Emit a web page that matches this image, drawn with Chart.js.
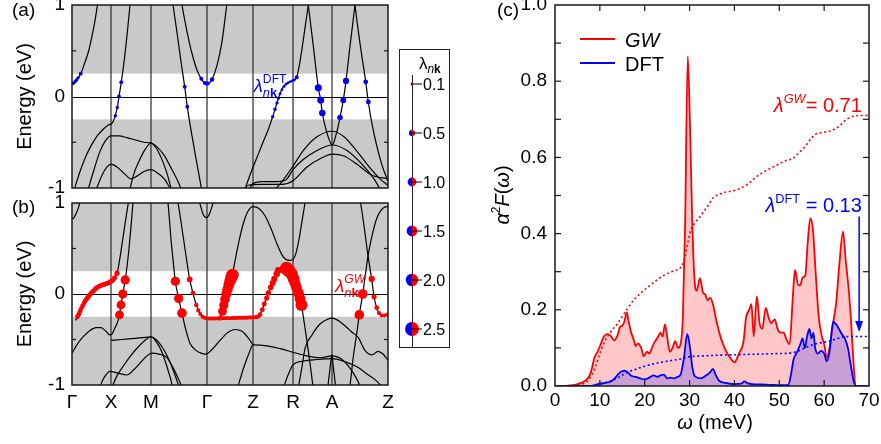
<!DOCTYPE html>
<html>
<head>
<meta charset="utf-8">
<script src="https://cdn.jsdelivr.net/npm/chart.js@4.4.1/dist/chart.umd.min.js"></script>
<style>
  html, body { margin: 0; padding: 0; background: #fff; }
  #wrap { position: relative; width: 881px; height: 444px; overflow: hidden; background: #fff; }
  canvas { position: absolute; }
</style>
</head>
<body>
<div id="wrap">
  <canvas id="cA" width="400" height="210" style="left:0px;top:-10px"></canvas>
  <canvas id="cB" width="400" height="249" style="left:0px;top:195px"></canvas>
  <canvas id="cL" width="60" height="310" style="left:395px;top:45px"></canvas>
  <canvas id="cC" width="401" height="454" style="left:480px;top:-10px"></canvas>
</div>
<script>
// ---------- k-path and energy axis ----------
const kTicks = [0, 39, 79, 135, 181, 221, 260, 316];
const kLabels = ['Γ', 'X', 'M', 'Γ', 'Z', 'R', 'A', 'Z'];
const eTicks = [-1, 0, 1];
const fermiWindow = 0.25;

// ---------- DFT bands (k, E in eV) ----------
const bandA1 = [[0,0.14],[3,0.16],[6,0.2],[9,0.255],[12.5,0.36],[16.7,0.5],[20,0.66],[23,0.83],[25.5,1.0],[27,1.1]];
const bandA2 = [[2.7,-1.0],[8,-0.82],[14,-0.65],[20,-0.52],[26,-0.42],[32,-0.35],[36,-0.315],[39,-0.3],[40.5,-0.285],[42,-0.25],[43.3,-0.21],[45.3,-0.12],[47,0.0],[49.3,0.157],[52.5,0.42],[55.5,0.72],[58,1.0],[59,1.1]];
const bandA3 = [[16,-1.02],[22,-0.8],[28,-0.6],[33,-0.49],[39,-0.43],[47,-0.43],[55,-0.45],[65,-0.48],[72,-0.5],[79,-0.51],[85,-0.55],[92,-0.64],[100,-0.8],[106,-0.93],[109.5,-1.02]];
const bandA4 = [[57.7,-1.02],[62,-0.84],[67.7,-0.69],[73,-0.58],[79,-0.51],[84,-0.56],[90,-0.69],[95,-0.84],[99.5,-1.02]];
const bandA5 = [[24,-1.02],[30,-0.86],[35,-0.77],[39,-0.74],[45,-0.77],[52,-0.84],[59,-0.9],[65,-0.87],[72,-0.82],[79,-0.8],[86,-0.84],[93,-0.91],[99,-1.02]];
const bandA6 = [[100,1.07],[101,1.0],[105,0.7],[109,0.38],[112.7,0.106],[115.3,-0.113],[120,-0.43],[125,-0.74],[129.3,-1.0],[130,-1.05]];
const bandA7 = [[108,1.15],[110,1.0],[115,0.71],[120,0.47],[125,0.29],[129.3,0.193],[132.7,0.149],[135,0.14],[137,0.145],[140,0.186],[145,0.34],[150,0.6],[154.7,1.0],[156,1.12]];
const bandA8 = [[172,-1.05],[173.7,-0.99],[180,-0.8],[186.3,-0.63],[191,-0.5],[196.3,-0.36],[200.7,-0.22],[203,-0.14],[205,-0.07],[208,0.03],[211,0.1],[214,0.135],[218,0.16],[221,0.175],[224.7,0.21],[227,0.32],[230,0.52],[233,0.75],[236.3,1.0],[237,1.06]];
const bandA9 = [[235.6,1.06],[236.3,1.0],[241,0.58],[246.3,0.095],[248.7,-0.04],[250.3,-0.18],[255,-0.4],[260.3,-0.53],[264,-0.42],[268,-0.23],[271.3,-0.04],[274,0.17],[278,0.55],[283,1.0],[284,1.08]];
const bandA10 = [[282,1.1],[283,1.0],[288,0.58],[293.7,0.16],[296.3,-0.06],[300,-0.3],[305,-0.55],[310,-0.75],[316,-0.93]];
const bandA11 = [[200,-1.05],[210,-0.93],[221,-0.76],[232,-0.58],[245,-0.44],[260,-0.38],[272,-0.44],[285,-0.6],[298,-0.78],[308,-0.9],[316,-0.97]];
const bandA12 = [[176,-1.05],[180,-0.96],[190,-0.93],[205,-0.93],[214,-0.91],[221,-0.8],[230,-0.7],[245,-0.59],[260,-0.53],[275,-0.59],[290,-0.74],[302,-0.9],[310,-1.05]];
const bandA13 = [[170,-1.05],[176,-0.97],[190,-0.96],[210,-0.96],[221,-0.92],[235,-0.77],[250,-0.67],[260,-0.63],[272,-0.65],[285,-0.74],[300,-0.86],[316,-0.9]];
const dftBands = [bandA1,bandA2,bandA3,bandA4,bandA5,bandA6,bandA7,bandA8,bandA9,bandA10,bandA11,bandA12,bandA13];

// DFT coupling on the bands (k, E, lambda_nk)
const dftDots = [
  [1,0.142,0.15],[2.2,0.152,0.15],[3.3,0.168,0.15],[4.6,0.18,0.15],[6,0.204,0.15],[8.7,0.25,0.2],
  [43.3,-0.21,0.15],[45.3,-0.12,0.15],[47,0.0,0.2],[49.3,0.157,0.2],
  [112.7,0.106,0.2],[115.3,-0.113,0.2],
  [129.3,0.193,0.2],[132.7,0.149,0.2],[134.5,0.142,0.2],[136,0.142,0.2],[140,0.186,0.25],
  [200.7,-0.22,0.15],[203,-0.14,0.15],[205,-0.07,0.15],[206.5,-0.02,0.12],[208,0.03,0.12],[210,0.075,0.1],
  [212,0.11,0.1],[214,0.135,0.1],[216,0.15,0.1],[218,0.16,0.1],[220,0.17,0.1],[222,0.18,0.12],[224.7,0.21,0.2],
  [246.3,0.095,0.65],[248.7,-0.04,0.6],[250.3,-0.18,0.55],
  [268,-0.23,0.4],[271.3,-0.04,0.45],[274,0.17,0.5],
  [293.7,0.16,0.3],[296.3,-0.06,0.3]
];

// ---------- GW bands (k, E in eV) ----------
const bandB1 = [[0,0.82],[2,0.84],[4.3,0.89],[6.5,0.95],[8,1.02]];
const bandB2 = [[3.5,-0.29],[6,-0.245],[9.3,-0.16],[12,-0.1],[14.3,-0.06],[17,-0.02],[19.3,0.01],[22,0.04],[24.3,0.065],[27,0.085],[29.3,0.095],[32,0.105],[34.3,0.115],[37,0.125],[39.3,0.14],[41.5,0.16],[43,0.19],[45.3,0.235],[48,0.4],[51,0.62],[54,0.84],[56.3,1.0],[57.5,1.08]];
const bandB3 = [[0,-0.65],[6,-0.54],[12,-0.46],[18,-0.4],[24,-0.37],[29,-0.37],[34,-0.41],[37.7,-0.45],[40,-0.44],[42.7,-0.38],[45.5,-0.31],[47.5,-0.23],[49,-0.12],[50.8,0.0],[53.2,0.155],[55,0.3],[57,0.5],[59,0.74],[61,1.0],[62,1.1]];
const bandB4 = [[39,-0.51],[50,-0.5],[60,-0.49],[70,-0.48],[79,-0.47],[84,-0.5],[90,-0.58],[96,-0.7],[102,-0.86],[107,-1.02]];
const bandB5 = [[39,-1.05],[45,-0.9],[52,-0.78],[60,-0.66],[68,-0.56],[74,-0.5],[79,-0.47],[84,-0.52],[90,-0.64],[95,-0.8],[99,-0.95],[101,-1.05]];
const bandB6 = [[27,-1.05],[31,-0.94],[38,-0.85],[46,-0.87],[55,-0.89],[62,-0.83],[68,-0.76],[74,-0.69],[79.5,-0.65],[87,-0.66],[95,-0.7],[102,-0.83],[110,-1.02]];
const bandB7 = [[95,1.08],[96,1.0],[99,0.6],[101,0.38],[103.3,0.14],[106.7,-0.05],[110,-0.21],[114,-0.4],[118,-0.54],[124,-0.62],[129,-0.65],[134,-0.66],[140,-0.61],[148,-0.51],[155,-0.43],[163,-0.39],[170,-0.41],[176,-0.48],[181,-0.56]];
const bandB8 = [[104,1.08],[106,1.0],[110,0.72],[114,0.42],[117.7,0.16],[121,0.01],[124.3,-0.12],[127.7,-0.21],[131,-0.255],[135,-0.27],[145,-0.268],[160,-0.265],[175,-0.26],[186,-0.25],[188,-0.227],[192.3,-0.11],[196.3,0.011],[200.7,0.121],[204.7,0.22],[207,0.265],[210,0.29],[214.5,0.28],[217,0.255],[219.5,0.22],[221.5,0.17],[223,0.12],[224.5,0.07],[226.5,0.01],[228,-0.05],[229.5,-0.12],[232,-0.3],[235,-0.52],[238,-0.76],[241,-1.02]];
const bandB9 = [[146,-0.268],[149,-0.23],[151,-0.16],[153.5,-0.04],[156,0.07],[158.5,0.16],[161,0.25],[164,0.42],[168,0.63],[172,0.8],[176,0.91],[181,0.96],[187,0.94],[193,0.86],[199,0.72],[205,0.55],[210,0.43],[214,0.38],[218,0.37],[221,0.38],[224,0.45],[227,0.6],[230,0.8],[233,1.0],[234,1.07]];
const bandB10 = [[126,1.05],[127.7,1.0],[131,0.88],[134.3,0.84],[137.5,0.88],[141,1.0],[142.5,1.06]];
const bandB11 = [[277,-1.05],[278,-1.0],[281.3,-0.69],[284.5,-0.45],[287.3,-0.23],[290.7,0.0],[293.5,0.22],[296,0.42],[300,0.64],[304.7,0.83],[309,0.92],[314.7,0.96],[316,0.96]];
const bandB12 = [[287,1.05],[288.5,1.0],[292,0.75],[296,0.42],[299.7,0.165],[302,-0.03],[304.7,-0.15],[307,-0.21],[310,-0.235],[313,-0.235],[316,-0.225]];
const bandB13 = [[226,-1.05],[230,-0.8],[233,-0.6],[240,-0.45],[248,-0.33],[255,-0.28],[260,-0.265],[266,-0.29],[274,-0.36],[280,-0.42],[286.3,-0.48],[293,-0.62],[300,-0.67],[306,-0.63],[311,-0.66],[316,-0.73]];
const bandB14 = [[165,-1.05],[172,-0.8],[177,-0.65],[181,-0.56],[195,-0.57],[208,-0.6],[221,-0.64],[235,-0.68],[248,-0.7],[260,-0.68],[270,-0.72],[282,-0.88],[290,-1.05]];
const bandB15 = [[211,-1.05],[215,-0.92],[221,-0.78],[230,-0.74],[245,-0.72],[260,-0.71],[272,-0.74],[285,-0.8],[295,-0.88],[305,-0.96],[312,-1.05]];
const bandB16 = [[255.5,-1.05],[258,-0.82],[259.8,-0.67],[261.5,-0.82],[264,-1.05]];
const gwBands = [bandB1,bandB2,bandB3,bandB4,bandB5,bandB6,bandB7,bandB8,bandB9,bandB10,bandB11,bandB12,bandB13,bandB14,bandB15,bandB16];

// GW coupling on the bands (k, E, lambda_nk)
const gwDots = [
  [5.5,-0.25,0.3],[6.8,-0.222,0.3],[8,-0.192,0.3],[9.3,-0.16,0.3],[10.6,-0.13,0.3],[12,-0.1,0.3],[13.2,-0.077,0.3],
  [14.4,-0.058,0.3],[15.6,-0.04,0.3],[16.8,-0.024,0.3],[18,-0.008,0.3],[19.2,0.008,0.3],[20.5,0.022,0.3],[21.7,0.035,0.3],
  [23,0.05,0.3],[24.2,0.063,0.3],[25.5,0.073,0.3],[26.8,0.082,0.3],[28,0.089,0.3],[29.3,0.095,0.3],[30.6,0.1,0.3],
  [31.9,0.104,0.3],[33.2,0.109,0.3],[34.5,0.114,0.3],[35.8,0.119,0.3],[37.1,0.124,0.3],[38.4,0.132,0.3],[39.7,0.142,0.32],
  [41,0.154,0.32],[42.6,0.178,0.34],[45,0.228,0.36],
  [47.5,-0.23,1.0],[49,-0.12,1.0],[50.8,0.0,1.05],[53.2,0.155,1.1],
  [103.3,0.14,1.1],[106.7,-0.05,1.1],[110,-0.21,1.2],
  [117.7,0.16,0.42],[121,0.01,0.3],[124.3,-0.12,0.25],[126.3,-0.18,0.22],[128.3,-0.22,0.2],[130.5,-0.25,0.2],
  [132.5,-0.262,0.2],[134.5,-0.268,0.2],[136.5,-0.27,0.2],[138.5,-0.27,0.2],[140.5,-0.27,0.2],[142.5,-0.269,0.2],
  [144.5,-0.268,0.2],[146.5,-0.268,0.22],[148.5,-0.267,0.25],[150.5,-0.266,0.22],[152.5,-0.266,0.2],[154.5,-0.265,0.2],
  [156.5,-0.265,0.2],[158.5,-0.265,0.2],[160.5,-0.264,0.2],[162.5,-0.263,0.2],[164.5,-0.263,0.2],[166.5,-0.262,0.2],
  [168.5,-0.262,0.2],[170.5,-0.261,0.2],[172.5,-0.26,0.2],[174.5,-0.26,0.2],[176.5,-0.259,0.2],[178.5,-0.258,0.2],
  [180.5,-0.257,0.2],[182.5,-0.256,0.2],[184.5,-0.254,0.22],[186.3,-0.248,0.24],
  [188,-0.227,0.28],[190.3,-0.172,0.3],[192.3,-0.11,0.32],[194.7,-0.044,0.35],[196.3,0.011,0.38],[198.7,0.073,0.42],
  [200.7,0.121,0.46],[202.3,0.165,0.5],[204.7,0.22,0.55],[206.3,0.26,0.6],
  [214.5,0.28,2.3],[217,0.255,2.2],[219.5,0.22,2.0],[221.5,0.17,1.8],[223,0.12,1.6],[224.5,0.07,1.5],[226.5,0.01,1.5],
  [228,-0.05,1.5],[229.5,-0.12,1.9],
  [150.5,-0.19,1.0],[151.8,-0.12,1.1],[153,-0.06,1.2],[154.3,0.0,1.3],[155.5,0.05,1.4],[156.8,0.1,1.5],[158,0.14,1.7],
  [159.3,0.18,1.9],[160.5,0.21,2.0],
  [287.3,-0.23,1.2],[290.7,0.0,1.2],[299.7,0.165,0.5],[302,-0.03,0.35],[304.7,-0.15,0.28],[307,-0.21,0.22],
  [309.7,-0.235,0.2],[312.5,-0.235,0.2],[315.5,-0.225,0.2]
];

// lambda_nk size key
const legendLam = [0.1, 0.5, 1.0, 1.5, 2.0, 2.5];

// ---------- Eliashberg functions (omega in meV) ----------
const gwA2F = [[0,0],[2,0],[4,0.002],[5,0.005],[6,0.009],[7,0.016],[7.8,0.03],[8.3,0.05],[8.8,0.075],[9.5,0.09],[10.2,0.11],[11,0.132],[11.8,0.136],[12.5,0.13],[13.2,0.12],[14,0.135],[14.5,0.155],[15,0.158],[15.5,0.17],[16,0.193],[16.4,0.17],[17,0.14],[17.6,0.12],[18,0.105],[18.5,0.112],[19.2,0.1],[19.8,0.078],[20.5,0.09],[21,0.085],[21.6,0.1],[22.2,0.115],[23,0.13],[23.5,0.14],[24,0.13],[24.5,0.162],[25,0.13],[25.6,0.09],[26.2,0.1],[26.8,0.118],[27.4,0.1],[28,0.11],[28.5,0.18],[29,0.42],[29.6,0.865],[30.1,0.68],[30.6,0.43],[31.1,0.28],[31.6,0.25],[32.3,0.283],[33,0.245],[33.5,0.24],[34,0.225],[34.6,0.232],[35.3,0.21],[36,0.17],[37,0.125],[38,0.095],[39,0.075],[40,0.062],[41,0.085],[42,0.115],[42.6,0.18],[43.3,0.2],[43.8,0.215],[44.3,0.13],[45,0.235],[45.6,0.165],[46.2,0.15],[47,0.205],[47.6,0.18],[48.2,0.165],[49,0.175],[49.6,0.15],[50.3,0.14],[51,0.14],[51.5,0.125],[52.3,0.11],[53,0.23],[53.5,0.305],[54.2,0.265],[54.7,0.265],[55.2,0.285],[55.8,0.29],[56.3,0.37],[56.9,0.44],[57.5,0.41],[58.1,0.3],[58.8,0.18],[59.5,0.13],[60,0.11],[60.6,0.075],[61.2,0.1],[62,0.165],[62.7,0.22],[63.4,0.32],[64.2,0.405],[64.8,0.33],[65.5,0.25],[66,0.17],[66.5,0.07],[67,0.0],[70,0]];
const dftA2F = [[0,0],[8,0],[9,0.003],[10,0.006],[11.5,0.009],[12.5,0.012],[13.3,0.02],[14,0.03],[14.8,0.038],[15.6,0.04],[16.3,0.035],[17,0.027],[18,0.024],[19,0.02],[20,0.017],[21,0.022],[22,0.028],[22.8,0.024],[23.5,0.028],[24.3,0.03],[25,0.02],[25.8,0.022],[26.5,0.02],[27.3,0.024],[28,0.03],[28.7,0.07],[29.5,0.137],[30.1,0.1],[30.6,0.05],[31.2,0.025],[32.5,0.02],[33.5,0.026],[34.5,0.035],[35.2,0.045],[35.8,0.03],[36.5,0.015],[38,0.008],[40,0.005],[41.5,0.006],[42.2,0.012],[43,0.007],[44,0.005],[46,0.004],[48,0.003],[50,0.002],[52,0.002],[52.6,0.03],[53.2,0.07],[54,0.09],[54.7,0.11],[55.2,0.125],[55.7,0.1],[56.2,0.13],[56.7,0.15],[57.2,0.125],[57.6,0.14],[58,0.1],[58.6,0.085],[59.3,0.092],[60,0.085],[60.6,0.065],[61.2,0.09],[62,0.168],[62.6,0.163],[63.3,0.15],[64,0.135],[64.6,0.125],[65.3,0.1],[66,0.05],[66.6,0.012],[67.2,0],[70,0]];
const gwLamCum = [[0,0],[5,0.003],[7,0.01],[8,0.025],[9,0.05],[10,0.085],[11,0.115],[12.3,0.14],[14,0.165],[16,0.2],[17.5,0.225],[19,0.243],[21,0.262],[22.7,0.278],[24.5,0.292],[26.4,0.302],[28.2,0.314],[29,0.34],[29.6,0.375],[30.3,0.41],[31.2,0.428],[32.3,0.444],[34,0.472],[35.3,0.494],[37,0.505],[38.5,0.51],[40,0.513],[41.5,0.52],[43,0.53],[44.5,0.545],[46,0.558],[47.5,0.568],[49.5,0.58],[51.5,0.592],[53,0.597],[54,0.608],[55.5,0.625],[57,0.648],[58,0.66],[59.5,0.665],[61,0.668],[62.5,0.675],[63.5,0.683],[64.5,0.695],[65.5,0.703],[66.5,0.708],[68,0.71],[70,0.71]];
const dftLamCum = [[0,0],[9,0.001],[10,0.004],[11,0.008],[13,0.016],[14.5,0.025],[16,0.035],[18,0.044],[20,0.052],[22,0.058],[24,0.063],[26,0.067],[28,0.071],[29.5,0.076],[31,0.078],[33,0.079],[35,0.08],[37,0.081],[40,0.082],[43,0.083],[46,0.084],[49,0.085],[52,0.086],[53.5,0.089],[55,0.096],[56.5,0.104],[58,0.11],[59.5,0.114],[61,0.117],[62.5,0.123],[64,0.128],[65.5,0.13],[67,0.13],[70,0.13]];
const omegaTicks = [0, 10, 20, 30, 40, 50, 60, 70];
const a2fTicks = [0, 0.2, 0.4, 0.6, 0.8, 1.0];

// ---------- helpers ----------
const FAM = '"Liberation Sans", Arial, Helvetica, sans-serif';
Chart.defaults.font.family = FAM;
Chart.defaults.color = '#000';
const GRAY = '#c9c9c9';
const RED = '#ff0000';
const BLUE = '#0000ff';
const dotR = lam => 4.4 * Math.sqrt(lam);
const xy = arr => arr.map(p => ({ x: p[0], y: p[1] }));

function fnt(size, it, b) { return (it ? 'italic ' : '') + (b ? 'bold ' : '') + size.toFixed(1) + 'px ' + FAM; }
function segW(ctx, s, size) { ctx.font = fnt(size * (s.s || 1), s.i, s.b); return ctx.measureText(s.t).width; }
function itemW(ctx, it, size) {
  if (it.stack) return Math.max(...it.stack.map(row => row.reduce((w, s) => w + segW(ctx, s, size), 0)));
  return segW(ctx, it, size);
}
function drawRich(ctx, items, x, y, size, color, align, rot) {
  ctx.save();
  ctx.translate(x, y);
  if (rot) ctx.rotate(rot);
  ctx.fillStyle = color;
  ctx.textBaseline = 'alphabetic';
  ctx.textAlign = 'left';
  const total = items.reduce((w, it) => w + itemW(ctx, it, size), 0);
  let cx = align === 'center' ? -total / 2 : align === 'right' ? -total : 0;
  for (const it of items) {
    if (it.stack) {
      for (const row of it.stack) {
        let rx = cx;
        for (const s of row) {
          ctx.font = fnt(size * (s.s || 1), s.i, s.b);
          ctx.fillText(s.t, rx, (s.dy || 0) * size);
          rx += ctx.measureText(s.t).width;
        }
      }
      cx += itemW(ctx, it, size);
    } else {
      ctx.font = fnt(size * (it.s || 1), it.i, it.b);
      ctx.fillText(it.t, cx, (it.dy || 0) * size);
      cx += ctx.measureText(it.t).width;
    }
  }
  ctx.restore();
}
function seg(ctx, x1, y1, x2, y2) { ctx.beginPath(); ctx.moveTo(x1, y1); ctx.lineTo(x2, y2); ctx.stroke(); }

// split marker: left half DFT (blue), right half GW (red)
const splitCache = {};
function splitDot(r) {
  const key = r.toFixed(2);
  if (splitCache[key]) return splitCache[key];
  const s = 2 * Math.ceil(r + 1);
  const c = document.createElement('canvas');
  c.width = s; c.height = s;
  const g = c.getContext('2d');
  const m = s / 2;
  g.fillStyle = BLUE;
  g.beginPath(); g.moveTo(m, m); g.arc(m, m, r, -Math.PI / 2, Math.PI / 2, true); g.closePath(); g.fill();
  g.fillStyle = RED;
  g.beginPath(); g.moveTo(m, m); g.arc(m, m, r, -Math.PI / 2, Math.PI / 2, false); g.closePath(); g.fill();
  splitCache[key] = c;
  return c;
}

// ---------- band-structure panels ----------
function bandDecor(cfg) {
  return {
    id: 'bandDecor',
    beforeDatasetsDraw(chart) {
      const { ctx, chartArea: a, scales: { x, y } } = chart;
      ctx.save();
      ctx.fillStyle = GRAY;
      ctx.fillRect(a.left, a.top, a.width, a.height);
      const yT = y.getPixelForValue(fermiWindow), yB = y.getPixelForValue(-fermiWindow);
      ctx.fillStyle = '#fff';
      ctx.fillRect(a.left, yT, a.width, yB - yT);
      ctx.strokeStyle = '#000'; ctx.lineWidth = 1;
      const y0 = Math.round(y.getPixelForValue(0)) + 0.5;
      seg(ctx, a.left, y0, a.right, y0);
      ctx.strokeStyle = '#2a2a2a'; ctx.lineWidth = 1.2;
      kTicks.slice(1, -1).forEach(k => { const px = x.getPixelForValue(k); seg(ctx, px, a.top, px, a.bottom); });
      ctx.restore();
    },
    afterDatasetsDraw(chart) {
      const { ctx, chartArea: a, scales: { y } } = chart;
      ctx.save();
      ctx.strokeStyle = '#1a1a1a'; ctx.lineWidth = 1.5;
      ctx.strokeRect(a.left, a.top, a.width, a.height);
      ctx.lineWidth = 1.2;
      [-0.5, 0.5].forEach(v => {
        const py = y.getPixelForValue(v);
        seg(ctx, a.left, py, a.left + 4, py);
        seg(ctx, a.right - 4, py, a.right, py);
      });
      ctx.restore();
    },
    afterDraw(chart) {
      const { ctx, chartArea: a, scales: { x, y } } = chart;
      drawRich(ctx, [{ t: cfg.panel }], 12, cfg.panelY, 19, '#000', 'left');
      drawRich(ctx, [{ t: 'Energy (eV)' }], 31, (a.top + a.bottom) / 2, 20, '#000', 'center', -Math.PI / 2);
      const lx = x.getPixelForValue(cfg.labK), ly = y.getPixelForValue(cfg.labE);
      drawRich(ctx, [{ t: 'λ', i: 1 }, { stack: [
        [{ t: cfg.sup, i: cfg.supItalic, s: 0.64, dy: -0.5 }],
        [{ t: 'n', i: 1, s: 0.68, dy: 0.26 }, { t: 'k', b: 1, s: 0.68, dy: 0.26 }]
      ] }], lx, ly, 19, cfg.color, 'left');
    }
  };
}

function bandChart(id, bands, dots, color, cfg) {
  const datasets = bands.map(b => ({
    data: xy(b), borderColor: '#000', borderWidth: 1.2, pointRadius: 0,
    cubicInterpolationMode: 'monotone', fill: false, order: 2
  }));
  datasets.push({
    data: xy(dots), showLine: false, order: 1,
    pointRadius: c => dotR(dots[c.dataIndex][2]),
    pointBackgroundColor: color, pointBorderColor: color, pointBorderWidth: 0
  });
  return new Chart(document.getElementById(id), {
    type: 'line',
    data: { datasets },
    options: {
      responsive: false, animation: false, events: [], devicePixelRatio: 1,
      layout: { padding: cfg.padding },
      plugins: { legend: { display: false }, tooltip: { enabled: false } },
      scales: {
        x: {
          type: 'linear', min: 0, max: 316, display: cfg.showX,
          grid: { display: false, drawTicks: false }, border: { display: false },
          afterBuildTicks: s => { s.ticks = kTicks.map(v => ({ value: v })); },
          ticks: { autoSkip: false, maxRotation: 0, padding: 6, font: { size: 19 }, callback: (v, i) => kLabels[i] },
          afterFit: s => { s.paddingLeft = 0; s.paddingRight = 0; if (cfg.showX) s.height = cfg.xH; }
        },
        y: {
          type: 'linear', min: -1, max: 1,
          grid: { display: false, drawTicks: false }, border: { display: false },
          afterBuildTicks: s => { s.ticks = eTicks.map(v => ({ value: v })); },
          ticks: { padding: 7, font: { size: 19 }, callback: v => String(v) },
          afterFit: s => { s.width = 72; s.paddingTop = 0; s.paddingBottom = 0; }
        }
      }
    },
    plugins: [bandDecor(cfg)]
  });
}

bandChart('cA', dftBands, dftDots, BLUE, {
  padding: { top: 15, right: 12, bottom: 12, left: 0 }, showX: false,
  panel: '(a)', panelY: 26, labK: 181.5, labE: 0.045, sup: 'DFT', supItalic: false, color: BLUE
});
bandChart('cB', gwBands, gwDots, RED, {
  padding: { top: 8, right: 12, bottom: 0, left: 0 }, showX: true, xH: 59,
  panel: '(b)', panelY: 18, labK: 263, labE: 0.02, sup: 'GW', supItalic: true, color: RED
});

// ---------- lambda_nk size key ----------
new Chart(document.getElementById('cL'), {
  type: 'scatter',
  data: { datasets: [{
    data: legendLam.map((v, i) => ({ x: 0, y: i })),
    clip: false,
    pointRadius: c => dotR(legendLam[c.dataIndex]),
    pointStyle: c => splitDot(dotR(legendLam[c.dataIndex]))
  }] },
  options: {
    responsive: false, animation: false, events: [], devicePixelRatio: 1,
    layout: { padding: { left: 4, right: 34, top: 39, bottom: 26 } },
    plugins: { legend: { display: false }, tooltip: { enabled: false } },
    scales: {
      x: { type: 'linear', min: -1, max: 1, display: false },
      y: { type: 'linear', min: 0, max: 5, reverse: true, display: false }
    }
  },
  plugins: [{
    id: 'keyDecor',
    beforeDatasetsDraw(chart) {
      const { ctx, scales: { x } } = chart;
      ctx.save();
      ctx.strokeStyle = '#222'; ctx.lineWidth = 1;
      ctx.strokeRect(4.5, 4.5, 50, 298);
      const cx = Math.round(x.getPixelForValue(0)) + 0.5;
      seg(ctx, cx, 30, cx, 303);
      ctx.restore();
    },
    afterDatasetsDraw(chart) {
      const { ctx } = chart;
      const meta = chart.getDatasetMeta(0);
      ctx.save();
      ctx.strokeStyle = '#000'; ctx.lineWidth = 1;
      meta.data.forEach((p, i) => {
        seg(ctx, p.x, p.y, p.x + 10, p.y);
        drawRich(ctx, [{ t: legendLam[i].toFixed(1) }], p.x + 11, p.y + 6, 16, '#000', 'left');
      });
      ctx.restore();
      drawRich(ctx, [{ t: 'λ' }, { t: 'n', i: 1, s: 0.7, dy: 0.25 }, { t: 'k', b: 1, s: 0.7, dy: 0.25 }], 24, 24, 17, '#000', 'left');
    }
  }]
});

// ---------- Eliashberg spectral function panel ----------
new Chart(document.getElementById('cC'), {
  type: 'line',
  data: { datasets: [
    { data: xy(gwA2F), borderColor: RED, borderWidth: 1.8, backgroundColor: 'rgba(255,0,0,0.22)',
      fill: 'origin', pointRadius: 0, cubicInterpolationMode: 'monotone', order: 4 },
    { data: xy(dftA2F), borderColor: BLUE, borderWidth: 1.8, backgroundColor: 'rgba(40,40,255,0.25)',
      fill: 'origin', pointRadius: 0, cubicInterpolationMode: 'monotone', order: 3 },
    { data: xy(gwLamCum), borderColor: RED, borderWidth: 1.6, borderDash: [2, 2.6],
      fill: false, pointRadius: 0, cubicInterpolationMode: 'monotone', order: 2 },
    { data: xy(dftLamCum), borderColor: BLUE, borderWidth: 1.6, borderDash: [2, 2.6],
      fill: false, pointRadius: 0, cubicInterpolationMode: 'monotone', order: 1 }
  ] },
  options: {
    responsive: false, animation: false, events: [], devicePixelRatio: 1,
    layout: { padding: { top: 15, right: 12, bottom: 0, left: 0 } },
    plugins: { legend: { display: false }, tooltip: { enabled: false } },
    scales: {
      x: {
        type: 'linear', min: 0, max: 70,
        grid: { display: false, drawTicks: false }, border: { display: false },
        afterBuildTicks: s => { s.ticks = omegaTicks.map(v => ({ value: v })); },
        ticks: { autoSkip: false, maxRotation: 0, padding: 3, font: { size: 19 } },
        afterFit: s => { s.height = 58; s.paddingLeft = 0; s.paddingRight = 0; }
      },
      y: {
        type: 'linear', min: 0, max: 1,
        grid: { display: false, drawTicks: false }, border: { display: false },
        afterBuildTicks: s => { s.ticks = a2fTicks.map(v => ({ value: v })); },
        ticks: { padding: 8, font: { size: 19 }, callback: v => v.toFixed(1) },
        afterFit: s => { s.width = 75; s.paddingTop = 0; s.paddingBottom = 0; }
      }
    }
  },
  plugins: [{
    id: 'a2fDecor',
    afterDatasetsDraw(chart) {
      const { ctx, chartArea: a, scales: { x, y } } = chart;
      ctx.save();
      ctx.strokeStyle = '#1a1a1a'; ctx.lineWidth = 1.5;
      ctx.strokeRect(a.left, a.top, a.width, a.height);
      ctx.lineWidth = 1.2;
      for (let i = 1; i < 10; i++) {
        const py = y.getPixelForValue(i / 10);
        seg(ctx, a.left, py, a.left + 6, py);
        seg(ctx, a.right - 6, py, a.right, py);
      }
      omegaTicks.slice(1, -1).forEach(v => {
        const px = x.getPixelForValue(v);
        seg(ctx, px, a.bottom, px, a.bottom - 6);
        seg(ctx, px, a.top, px, a.top + 6);
      });
      // key
      ctx.lineWidth = 1.8;
      ctx.strokeStyle = RED; seg(ctx, 100, 49, 135, 49);
      ctx.strokeStyle = BLUE; seg(ctx, 100, 73, 135, 73);
      // arrow onto the DFT total
      const ax = x.getPixelForValue(67.8);
      const yTop = y.getPixelForValue(0.445), yTip = y.getPixelForValue(dftLamCum[dftLamCum.length - 1][1] + 0.012);
      ctx.strokeStyle = BLUE; ctx.fillStyle = BLUE; ctx.lineWidth = 1.5;
      seg(ctx, ax, yTop, ax, yTip - 8);
      ctx.beginPath(); ctx.moveTo(ax, yTip); ctx.lineTo(ax - 4, yTip - 11); ctx.lineTo(ax + 4, yTip - 11); ctx.closePath(); ctx.fill();
      ctx.restore();
    },
    afterDraw(chart) {
      const { ctx, chartArea: a, scales: { x, y } } = chart;
      drawRich(ctx, [{ t: 'GW', i: 1 }], 145, 57, 20, '#000', 'left');
      drawRich(ctx, [{ t: 'DFT' }], 145, 81, 20, '#000', 'left');
      const gwTot = gwLamCum[gwLamCum.length - 1][1], dftTot = dftLamCum[dftLamCum.length - 1][1];
      drawRich(ctx, [{ t: 'λ', i: 1 }, { t: 'GW', i: 1, s: 0.64, dy: -0.42 }, { t: '= ' + gwTot.toFixed(2) }],
        x.getPixelForValue(68.4), y.getPixelForValue(0.72), 20, RED, 'right');
      drawRich(ctx, [{ t: 'λ', i: 1 }, { t: 'DFT', s: 0.64, dy: -0.42 }, { t: ' = ' + dftTot.toFixed(2) }],
        x.getPixelForValue(68.4), y.getPixelForValue(0.457), 20, BLUE, 'right');
      drawRich(ctx, [{ t: 'ω', i: 1 }, { t: ' (meV)' }], (a.left + a.right) / 2 + 3, 439, 20, '#000', 'center');
      drawRich(ctx, [{ t: 'α', i: 1 }, { t: '2', s: 0.6, dy: -0.45 }, { t: 'F', i: 1 }, { t: '(' }, { t: 'ω', i: 1 }, { t: ')' }],
        29, 205, 20, '#000', 'center', -Math.PI / 2);
      drawRich(ctx, [{ t: '(c)' }], 17, 26, 19, '#000', 'left');
    }
  }]
});
</script>
</body>
</html>
